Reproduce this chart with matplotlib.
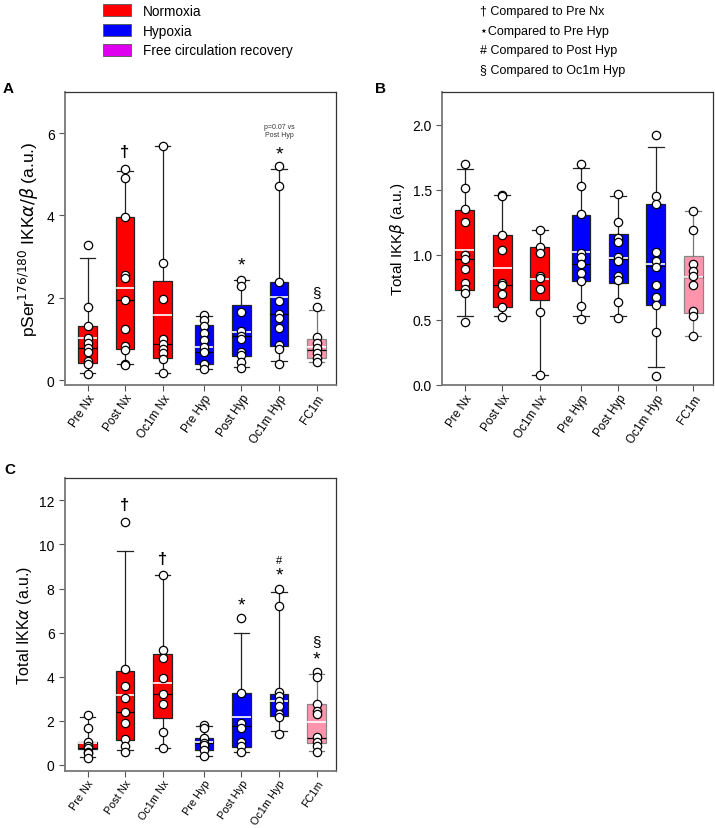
import matplotlib
matplotlib.use('Agg')
import matplotlib.pyplot as plt
from matplotlib.patches import Patch

plt.rcParams['font.family'] = ['Liberation Sans', 'DejaVu Sans']
plt.rcParams['mathtext.fontset'] = 'dejavusans'

groups = ['Pre Nx', 'Post Nx', 'Oc1m Nx', 'Pre Hyp', 'Post Hyp', 'Oc1m Hyp', 'FC1m']
colors = ['#ff0000', '#ff0000', '#ff0000', '#0000ff', '#0000ff', '#0000ff', '#ff94ad']
pos = [0, 1, 2, 3.1, 4.1, 5.1, 6.1]

# Panel A: pSer176/180 IKKa/b
a_q1 = [0.42, 0.75, 0.54, 0.40, 0.59, 0.83, 0.54]
a_q3 = [1.32, 3.96, 2.41, 1.33, 1.82, 2.39, 0.99]
a_med = [0.79, 1.94, 0.87, 0.68, 1.07, 1.60, 0.72]
a_mean = [1.03, 2.24, 1.59, 0.80, 1.17, 2.01, 0.81]
a_lo = [0.18, 0.38, 0.16, 0.28, 0.32, 0.47, 0.43]
a_hi = [2.97, 5.09, 5.68, 1.56, 2.44, 5.13, 1.71]
a_pts = [
    [3.28, 1.77, 1.32, 1.01, 0.89, 0.78, 0.69, 0.46, 0.40, 0.14],
    [5.14, 4.91, 3.96, 2.55, 2.49, 1.94, 1.23, 0.82, 0.72, 0.40, 0.36],
    [5.68, 2.84, 1.98, 0.99, 0.87, 0.75, 0.65, 0.51, 0.16],
    [1.59, 1.46, 1.31, 1.14, 0.98, 0.81, 0.68, 0.38, 0.27],
    [2.44, 2.29, 1.66, 1.20, 1.07, 0.99, 0.69, 0.62, 0.43, 0.30],
    [5.21, 4.72, 2.39, 1.92, 1.61, 1.50, 1.27, 0.85, 0.75, 0.38],
    [1.77, 1.04, 0.90, 0.78, 0.65, 0.54, 0.43],
]
a_marks = [(1, 5.55, '†'), (4, 2.8, '*'), (5, 5.5, '*'), (6, 2.15, '§')]

# Panel B: total IKKb
b_q1 = [0.731, 0.597, 0.649, 0.795, 0.785, 0.615, 0.551]
b_q3 = [1.346, 1.154, 1.056, 1.308, 1.159, 1.392, 0.987]
b_med = [0.969, 0.769, 0.820, 0.928, 0.970, 0.910, 0.830]
b_mean = [1.036, 0.895, 0.815, 1.018, 0.972, 0.928, 0.831]
b_lo = [0.528, 0.533, 0.077, 0.528, 0.528, 0.136, 0.379]
b_hi = [1.660, 1.459, 1.187, 1.667, 1.451, 1.828, 1.338]
b_pts = [
    [1.70, 1.513, 1.35, 1.25, 0.995, 0.97, 0.89, 0.78, 0.74, 0.71, 0.487],
    [1.459, 1.45, 1.154, 1.04, 0.785, 0.77, 0.70, 0.597, 0.52],
    [1.187, 1.06, 1.015, 0.84, 0.82, 0.74, 0.56, 0.077],
    [1.70, 1.53, 1.31, 1.013, 0.98, 0.93, 0.86, 0.795, 0.61, 0.51],
    [1.469, 1.249, 1.13, 1.10, 0.98, 0.95, 0.836, 0.805, 0.636, 0.515],
    [1.923, 1.451, 1.392, 1.021, 0.949, 0.905, 0.769, 0.674, 0.615, 0.405, 0.072],
    [1.338, 1.192, 0.928, 0.879, 0.836, 0.769, 0.567, 0.528, 0.379],
]

# Panel C: total IKKa
c_q1 = [0.73, 1.13, 2.12, 0.68, 0.80, 2.21, 0.98]
c_q3 = [1.06, 4.28, 5.02, 1.21, 3.27, 3.22, 2.75]
c_med = [0.76, 2.42, 3.20, 1.00, 1.78, 2.89, 1.21]
c_mean = [0.98, 3.19, 3.72, 1.06, 2.19, 2.92, 1.97]
c_lo = [0.35, 0.68, 0.76, 0.42, 0.57, 1.56, 0.62]
c_hi = [2.16, 9.69, 8.63, 1.75, 5.97, 7.83, 4.13]
c_pts = [
    [2.27, 1.66, 1.06, 0.88, 0.76, 0.60, 0.54, 0.30],
    [11.04, 4.35, 3.57, 3.05, 2.42, 1.92, 1.18, 0.88, 0.60],
    [8.63, 5.23, 4.84, 3.95, 3.20, 2.77, 1.48, 0.76],
    [1.81, 1.66, 1.21, 1.00, 0.91, 0.68, 0.42],
    [6.65, 3.27, 1.90, 1.66, 1.06, 0.85, 0.57],
    [7.98, 7.20, 3.30, 3.14, 2.92, 2.69, 2.31, 2.16, 1.42],
    [4.20, 3.98, 2.77, 2.46, 2.31, 1.25, 1.06, 0.88, 0.57],
]
c_marks = [(1, 11.8, '†'), (2, 9.35, '†'), (4, 7.25, '*'), (5, 9.3, '#'),
           (5, 8.6, '*'), (6, 5.6, '§'), (6, 4.8, '*')]


def draw_panel(ax, q1, q3, med, mean, lo, hi, pts, ylim, yticks, ylabel, ylsize, xtsize=8.5):
    stats = []
    for i in range(len(groups)):
        stats.append(dict(q1=q1[i], q3=q3[i], med=med[i], mean=mean[i],
                          whislo=lo[i], whishi=hi[i], fliers=[]))
    bp = ax.bxp(stats, positions=pos, widths=0.5, patch_artist=True,
                showmeans=True, meanline=True, showfliers=False,
                medianprops=dict(color='black', lw=0.9),
                meanprops=dict(color='white', lw=1.2, ls='-'),
                whiskerprops=dict(color='#222222', lw=0.9),
                capprops=dict(color='#222222', lw=0.9),
                capwidths=0.42)
    for i, box in enumerate(bp['boxes']):
        box.set_facecolor(colors[i])
        edge = '#888888' if i == 6 else '#222222'
        box.set_edgecolor(edge)
        box.set_linewidth(0.9)
        if i == 6:
            for art in bp['whiskers'][2 * i:2 * i + 2] + bp['caps'][2 * i:2 * i + 2]:
                art.set_color('#777777')
    for i, vals in enumerate(pts):
        ax.plot([pos[i]] * len(vals), vals, 'o', mfc='white', mec='black',
                ms=6, mew=0.9, zorder=5)
    ax.set_xlim(-0.6, 6.62)
    ax.set_ylim(*ylim)
    ax.set_yticks(yticks)
    ax.set_xticks(pos)
    ax.set_xticklabels(groups, rotation=56, ha='right', rotation_mode='anchor', fontsize=xtsize)
    ax.tick_params(axis='y', labelsize=10, direction='out', length=4, color='#555555')
    ax.tick_params(axis='x', direction='out', length=4, color='#555555', pad=1)
    ax.set_ylabel(ylabel, fontsize=ylsize)
    for s in ax.spines.values():
        s.set_color('#333333')
        s.set_linewidth(0.9)
    ax.spines['left'].set_color('#777777')
    ax.spines['left'].set_linewidth(1.3)
    ax.spines['bottom'].set_color('#777777')
    ax.spines['bottom'].set_linewidth(1.3)


def add_marks(ax, marks):
    for i, y, sym in marks:
        if sym == '†':
            ax.text(pos[i], y, sym, ha='center', va='center', fontsize=12, fontweight='bold')
        elif sym == '*':
            ax.text(pos[i], y, sym, ha='center', va='center', fontsize=14)
        elif sym == '#':
            ax.text(pos[i], y, sym, ha='center', va='center', fontsize=8)
        else:
            ax.text(pos[i], y, sym, ha='center', va='center', fontsize=11)


fig = plt.figure(figsize=(7.15, 8.29), dpi=100)

axA = fig.add_axes([0.0909, 0.5344, 0.3791, 0.3534])
draw_panel(axA, a_q1, a_q3, a_med, a_mean, a_lo, a_hi, a_pts, (-0.12, 7.0), [0, 2, 4, 6],
           r'pSer$^{176/180}$ IKK$\alpha/\beta$ (a.u.)', 12.5)
add_marks(axA, a_marks)
axA.text(pos[5], 6.06, 'p=0.07 vs\nPost Hyp', ha='center', va='center', fontsize=5,
         color='#333333', linespacing=1.3)

axB = fig.add_axes([0.6186, 0.5344, 0.3782, 0.3534])
draw_panel(axB, b_q1, b_q3, b_med, b_mean, b_lo, b_hi, b_pts, (0, 2.25),
           [0.0, 0.5, 1.0, 1.5, 2.0], r'Total IKK$\beta$ (a.u.)', 11)
axB.set_yticklabels(['0.0', '0.5', '1.0', '1.5', '2.0'])

axC = fig.add_axes([0.0909, 0.0691, 0.3791, 0.3527])
draw_panel(axC, c_q1, c_q3, c_med, c_mean, c_lo, c_hi, c_pts, (-0.26, 13.0),
           [0, 2, 4, 6, 8, 10, 12], r'Total IKK$\alpha$ (a.u.)', 11.5, xtsize=7.8)
add_marks(axC, c_marks)

fig.text(0.003, 0.893, 'A', fontsize=11, fontweight='bold', va='center')
fig.text(0.525, 0.893, 'B', fontsize=11, fontweight='bold', va='center')
fig.text(0.006, 0.433, 'C', fontsize=11, fontweight='bold', va='center')

legend_labels = ['Normoxia', 'Hypoxia', 'Free circulation recovery']
legend_colors = ['#ff0000', '#0000ff', '#e000f0']
handles = [Patch(facecolor=c, edgecolor='#555555', lw=0.6) for c in legend_colors]
fig.legend(handles, legend_labels, loc='upper left', bbox_to_anchor=(0.127, 1.009),
           frameon=False, fontsize=9.8, handlelength=2.06, handleheight=0.95,
           labelspacing=0.43, handletextpad=0.9)

notes = ['† Compared to Pre Nx', '⋆Compared to Pre Hyp', '# Compared to Post Hyp',
         '§ Compared to Oc1m Hyp']
for k, t in enumerate(notes):
    fig.text(0.671, 0.985 - k * 0.0235, t, fontsize=9, va='center')

fig.savefig('out.png', dpi=100)
